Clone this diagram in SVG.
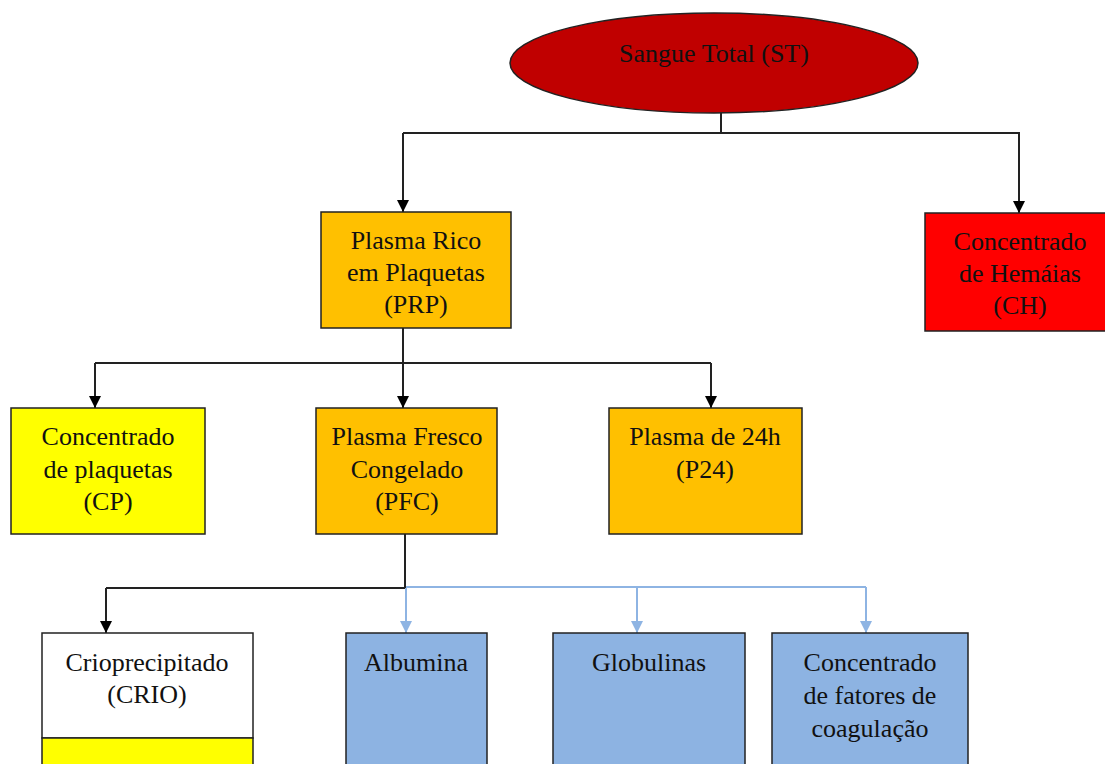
<svg xmlns="http://www.w3.org/2000/svg" width="1105" height="764" viewBox="0 0 1105 764">
<defs>
<marker id="ab" markerWidth="12" markerHeight="12" viewBox="0 0 12 12" refX="6" refY="12" orient="auto-start-reverse" markerUnits="userSpaceOnUse"><path d="M0,0 L12,0 L6,12 Z" fill="#000" transform="rotate(-90 6 6)"/></marker>
<marker id="ak" markerWidth="12" markerHeight="12" viewBox="0 0 12 12" refX="12" refY="6" orient="auto" markerUnits="userSpaceOnUse"><path d="M0,0 L12,6 L0,12 Z" fill="#000"/></marker>
<marker id="al" markerWidth="12" markerHeight="12" viewBox="0 0 12 12" refX="12" refY="6" orient="auto" markerUnits="userSpaceOnUse"><path d="M0,0 L12,6 L0,12 Z" fill="#8EB4E3"/></marker>
</defs>
<style>
.t{font-family:"Liberation Serif","Times New Roman",serif;font-size:26px;fill:#111;text-anchor:middle}
.b{stroke:#222;stroke-width:1.5}
.k{fill:none;stroke:#222;stroke-width:2}
.l{fill:none;stroke:#8EB4E3;stroke-width:2}
</style>
<rect width="1105" height="764" fill="#fff"/>
<g id="connectors">
<path class="k" d="M721,113 V133 M403,133 H1020"/>
<path class="k" d="M403,133 V212" marker-end="url(#ak)"/>
<path class="k" d="M1019,133 V213" marker-end="url(#ak)"/>
<path class="k" d="M403,328 V408" marker-end="url(#ak)"/>
<path class="k" d="M95,363 H711"/>
<path class="k" d="M95,363 V408" marker-end="url(#ak)"/>
<path class="k" d="M711,363 V408" marker-end="url(#ak)"/>
<path class="k" d="M405,534 V588 H106"/>
<path class="k" d="M106,588 V633" marker-end="url(#ak)"/>
<path class="l" d="M406,587 H866"/>
<path class="l" d="M406,588 V633" marker-end="url(#al)"/>
<path class="l" d="M637,587 V633" marker-end="url(#al)"/>
<path class="l" d="M866,587 V633" marker-end="url(#al)"/>
</g>
<g id="st">
<ellipse cx="714" cy="63" rx="204" ry="50" fill="#C00000" class="b"/>
<text class="t" x="714" y="62">Sangue Total (ST)</text>
</g>
<g id="prp">
<rect x="321" y="212" width="190" height="116" fill="#FFC000" class="b"/>
<text class="t" x="416" y="249">Plasma Rico</text>
<text class="t" x="416" y="281">em Plaquetas</text>
<text class="t" x="416" y="313">(PRP)</text>
</g>
<g id="ch">
<rect x="925" y="213" width="185" height="118" fill="#FF0000" class="b"/>
<text class="t" x="1020" y="250">Concentrado</text>
<text class="t" x="1020" y="282">de Hemáias</text>
<text class="t" x="1020" y="314">(CH)</text>
</g>
<g id="cp">
<rect x="11" y="408" width="194" height="126" fill="#FFFF00" class="b"/>
<text class="t" x="108" y="445">Concentrado</text>
<text class="t" x="108" y="478">de plaquetas</text>
<text class="t" x="108" y="510">(CP)</text>
</g>
<g id="pfc">
<rect x="316" y="408" width="181" height="126" fill="#FFC000" class="b"/>
<text class="t" x="407" y="445">Plasma Fresco</text>
<text class="t" x="407" y="478">Congelado</text>
<text class="t" x="407" y="510">(PFC)</text>
</g>
<g id="p24">
<rect x="609" y="408" width="193" height="126" fill="#FFC000" class="b"/>
<text class="t" x="705" y="445">Plasma de 24h</text>
<text class="t" x="705" y="478">(P24)</text>
</g>
<g id="crio">
<rect x="42" y="633" width="211" height="105" fill="#fff" class="b"/>
<rect x="42" y="738" width="211" height="30" fill="#FFFF00" class="b"/>
<text class="t" x="147" y="671">Crioprecipitado</text>
<text class="t" x="147" y="703">(CRIO)</text>
</g>
<g id="albumina">
<rect x="346" y="633" width="141" height="135" fill="#8DB3E2" class="b"/>
<text class="t" x="416" y="671">Albumina</text>
</g>
<g id="globulinas">
<rect x="553" y="633" width="192" height="135" fill="#8DB3E2" class="b"/>
<text class="t" x="649" y="671">Globulinas</text>
</g>
<g id="fatores">
<rect x="772" y="633" width="196" height="135" fill="#8DB3E2" class="b"/>
<text class="t" x="870" y="671">Concentrado</text>
<text class="t" x="870" y="704">de fatores de</text>
<text class="t" x="870" y="737">coagulação</text>
</g>
</svg>
